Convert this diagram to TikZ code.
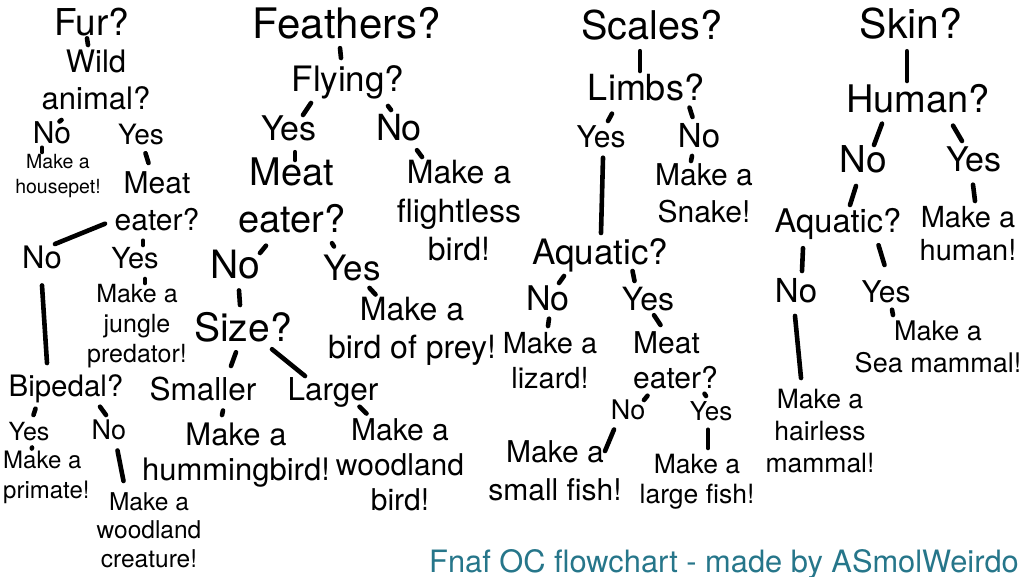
\documentclass[tikz,border=0pt]{standalone}
\usepackage{fontspec}
\setmainfont{TeX Gyre Heros}
\definecolor{credit}{RGB}{38,118,138}

\begin{document}
\begin{tikzpicture}[x=1pt, y=-1pt,
    txt/.style 2 args={font=\fontsize{#1}{#2}\selectfont}]

  \path[use as bounding box, fill=white] (0,0) rectangle (1024,576);

  \begin{scope}[every node/.style={anchor=north, inner sep=0pt, align=center}]
    % fur
    \node[txt={37}{44}]   (fur)     at (92,8)     {Fur?};
    \node[txt={31}{37}]   (wild)    at (96,50)    {Wild\\animal?};
    \node[txt={30}{36}]   (fno1)    at (52,121)   {No};
    \node[txt={28}{34}]   (fyes1)   at (141,124)  {Yes};
    \node[txt={19.5}{25}] (fpet)    at (58,154)   {Make a\\housepet!};
    \node[txt={30}{37}]   (fmeat)   at (157,171)  {Meat\\eater?};
    \node[txt={31}{37}]   (fno2)    at (42,246)   {No};
    \node[txt={29}{35}]   (fyes2)   at (135,247)  {Yes};
    \node[txt={25}{30}]   (fjungle) at (137,284)  {Make a\\jungle\\predator!};
    \node[txt={29.5}{35}] (bip)     at (66,374)   {Bipedal?};
    \node[txt={25}{30}]   (byes)    at (29,422)   {Yes};
    \node[txt={27}{32}]   (bno)     at (109,420)  {No};
    \node[txt={24}{30}, anchor=north west, align=left] (prim) at (3,451) {Make a\\primate!};
    \node[txt={24.5}{28.5}] (wcre)  at (149,492)  {Make a\\woodland\\creature!};

    % feathers
    \node[txt={42}{50}]   (feath)   at (347,7)    {Feathers?};
    \node[txt={35}{42}]   (fly)     at (348,65)   {Flying?};
    \node[txt={34}{40}]   (flyyes)  at (289,115.5) {Yes};
    \node[txt={36}{43}]   (flyno)   at (399,114)  {No};
    \node[txt={38}{47}]   (bmeat)   at (292,158)  {Meat\\eater?};
    \node[txt={32}{38.5}] (flight)  at (459,160)  {Make a\\flightless\\bird!};
    \node[txt={39}{47}]   (bno2)    at (235,250)  {No};
    \node[txt={35}{42}]   (byes2)   at (352,255)  {Yes};
    \node[txt={39}{47}]   (sizeq)   at (243,312)  {Size?};
    \node[txt={32}{38}]   (prey)    at (412,297)  {Make a\\bird of prey!};
    \node[txt={31.5}{38}] (small)   at (203,377)  {Smaller};
    \node[txt={31.5}{38}] (large)   at (333,377)  {Larger};
    \node[txt={31}{35}]   (humm)    at (236,423)  {Make a\\hummingbird!};
    \node[txt={30}{35}]   (wbird)   at (400,418)  {Make a\\woodland\\bird!};

    % scales
    \node[txt={39.6}{47}] (scal)    at (652,9.5)  {Scales?};
    \node[txt={36}{43}]   (limbs)   at (646,74)   {Limbs?};
    \node[txt={30}{36}]   (syes)    at (601,125)  {Yes};
    \node[txt={33}{40}]   (sno)     at (699,123)  {No};
    \node[txt={30}{37}]   (snake)   at (704,163)  {Make a\\Snake!};
    \node[txt={35}{42}]   (saq)     at (600,238)  {Aquatic?};
    \node[txt={34}{40}]   (sano)    at (548,286)  {No};
    \node[txt={32}{38}]   (sayes)   at (648,287)  {Yes};
    \node[txt={29}{35}]   (lizard)  at (550,332)  {Make a\\lizard!};
    \node[txt={30}{35}, anchor=north west, align=left] (smeat) at (633,331) {Meat\\eater?};
    \node[txt={27}{32}]   (mno)     at (628,400)  {No};
    \node[txt={26}{31}]   (myes)    at (711,401)  {Yes};
    \node[txt={30}{38}]   (sfish)   at (555,440)  {Make a\\small fish!};
    \node[txt={26.5}{30}] (lfish)   at (697,454)  {Make a\\large fish!};

    % skin
    \node[txt={41}{49}]   (skin)    at (911,7.5)  {Skin?};
    \node[txt={38}{46}]   (human)   at (918,84.5) {Human?};
    \node[txt={37}{44}]   (hno)     at (863,145)  {No};
    \node[txt={34}{41}]   (hyes)    at (974,147)  {Yes};
    \node[txt={32.6}{39}] (kaq)     at (838,208.5) {Aquatic?};
    \node[txt={29}{33}]   (mhuman)  at (968,206)  {Make a\\human!};
    \node[txt={33}{40}]   (kno)     at (796,278)  {No};
    \node[txt={30}{36}]   (kyes)    at (886,280)  {Yes};
    \node[txt={27}{32}]   (sea)     at (938,320.5) {Make a\\Sea mammal!};
    \node[txt={26.5}{32}] (hair)    at (820,389)  {Make a\\hairless\\mammal!};

    \node[txt={30.8}{36}, anchor=north west, text=credit] (sig) at (429,549)
      {Fnaf OC flowchart - made by ASmolWeirdo};
  \end{scope}

  \begin{scope}[every edge/.style={draw, line width=4.6pt, line cap=round}]
    % fur
    \path ([shift={(-5,2)}]fur.south)      edge ([shift={(-8,-5)}]wild.north);
    \path ([shift={(-34.5,9.5)}]wild.south) edge ([shift={(7.5,0.5)}]fno1.north);
    \path ([shift={(-10,4)}]fno1.south)    edge ([shift={(-16,-2)}]fpet.north);
    \path ([shift={(4.5,8)}]fyes1.south)   edge ([shift={(-8.5,-8)}]fmeat.north);
    \path ([shift={(-52,-7)}]fmeat.south)  edge ([shift={(13,-2)}]fno2.north);
    \path ([shift={(-14,10)}]fmeat.south)  edge ([shift={(8,-2)}]fyes2.north);
    \path ([shift={(10,10)}]fyes2.south)   edge ([shift={(8,-1)}]fjungle.north);
    \path ([shift={(0,16)}]fno2.south)     edge ([shift={(-19,-11)}]bip.north);
    \path ([shift={(-30.5,6)}]bip.south)   edge ([shift={(4.5,-7)}]byes.north);
    \path ([shift={(34,4)}]bip.south)      edge ([shift={(-3,-5)}]bno.north);
    \path ([shift={(3,6.5)}]byes.south)    edge ([shift={(-14.5,-2.5)}]prim.north);
    \path ([shift={(8.5,10)}]bno.south)    edge ([shift={(-25.5,-11)}]wcre.north);

    % feathers
    \path ([shift={(-7,9)}]feath.south)    edge ([shift={(-7,-7)}]fly.north);
    \path ([shift={(-37,4)}]fly.south)     edge ([shift={(14,-0.5)}]flyyes.north);
    \path ([shift={(40,7)}]fly.south)      edge ([shift={(-8,-4)}]flyno.north);
    \path ([shift={(6,11)}]flyyes.south)   edge ([shift={(3,2)}]bmeat.north);
    \path ([shift={(18,9)}]flyno.south)    edge ([shift={(-37,-3)}]flight.north);
    \path ([shift={(-26,12)}]bmeat.south)  edge ([shift={(25,3)}]bno2.north);
    \path ([shift={(40,9.5)}]bmeat.south)  edge ([shift={(-18,-8.5)}]byes2.north);
    \path ([shift={(4,11)}]bno2.south)     edge ([shift={(-3,-7)}]sizeq.north);
    \path ([shift={(17.5,6.5)}]byes2.south) edge ([shift={(-36.5,-2.5)}]prey.north);
    \path ([shift={(-7,10)}]sizeq.south)   edge ([shift={(28,-11)}]small.north);
    \path ([shift={(29,7)}]sizeq.south)    edge ([shift={(-28,-1)}]large.north);
    \path ([shift={(20,9)}]small.south)    edge ([shift={(-14,-8)}]humm.north);
    \path ([shift={(26.5,-0.5)}]large.south) edge ([shift={(-33.5,-4.5)}]wbird.north);

    % scales
    \path ([shift={(-12,11)}]scal.south)   edge ([shift={(-6,-3)}]limbs.north);
    \path ([shift={(-34,12)}]limbs.south)  edge ([shift={(7,-4)}]syes.north);
    \path ([shift={(43.5,6)}]limbs.south)  edge ([shift={(-6.5,-6)}]sno.north);
    \path ([shift={(2,10)}]syes.south)     edge ([shift={(1,-5)}]saq.north);
    \path ([shift={(-7,8)}]sno.south)      edge ([shift={(-13,-2)}]snake.north);
    \path ([shift={(-36,4)}]saq.south)     edge ([shift={(11,-3)}]sano.north);
    \path ([shift={(32.5,-1)}]saq.south)   edge ([shift={(-13.5,-6)}]sayes.north);
    \path ([shift={(1,7)}]sano.south)      edge ([shift={(-2,-6)}]lizard.north);
    \path ([shift={(6,4)}]sayes.south)     edge ([shift={(-15,-6)}]smeat.north);
    \path ([shift={(-28,7)}]smeat.south)   edge ([shift={(16,0)}]mno.north);
    \path ([shift={(29,5)}]smeat.south)    edge ([shift={(-5,-5)}]myes.north);
    \path ([shift={(-14,9)}]mno.south)     edge ([shift={(50,11)}]sfish.north);
    \path ([shift={(-3,9)}]myes.south)     edge ([shift={(11,-6)}]lfish.north);

    % skin
    \path ([shift={(-4,12)}]skin.south)    edge ([shift={(-11,-3.5)}]human.north);
    \path ([shift={(-36,10)}]human.south)  edge ([shift={(11,0)}]hno.north);
    \path ([shift={(35,12)}]human.south)   edge ([shift={(-12,-6)}]hyes.north);
    \path ([shift={(-7,13)}]hno.south)     edge ([shift={(12,-3.5)}]kaq.north);
    \path ([shift={(-1,12)}]hyes.south)    edge ([shift={(7,-5)}]mhuman.north);
    \path ([shift={(-35,8)}]kaq.south)     edge ([shift={(6,-7)}]kno.north);
    \path ([shift={(40.5,5)}]kaq.south)    edge ([shift={(-1.5,-15)}]kyes.north);
    \path ([shift={(6,7)}]kyes.south)      edge ([shift={(-45,-5.5)}]sea.north);
    \path ([shift={(-1,13)}]kno.south)     edge ([shift={(-19,-11)}]hair.north);
  \end{scope}

\end{tikzpicture}
\end{document}
